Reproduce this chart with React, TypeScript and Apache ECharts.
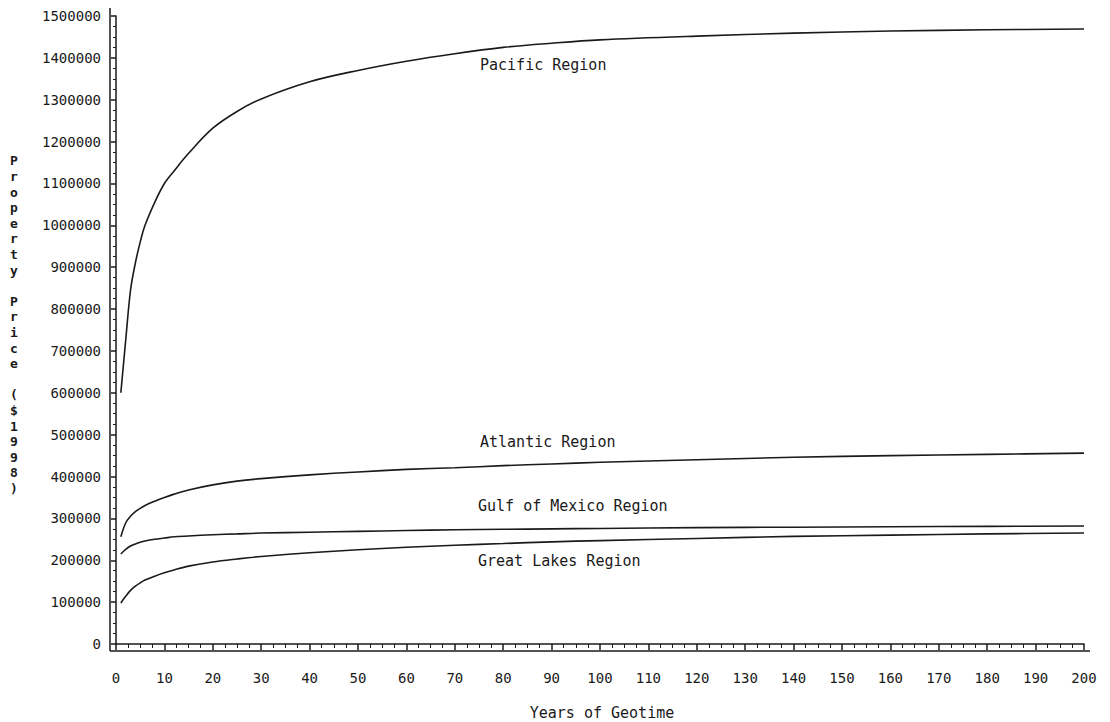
import React, { useEffect, useRef } from "react";
import * as echarts from "echarts";

const years = [1, 2, 3, 4, 5, 6, 8, 10, 12, 15, 20, 25, 30, 40, 50, 60, 70, 80, 90, 100, 120, 140, 160, 180, 200];
const pacific = [600000, 725000, 845000, 910000, 960000, 1000000, 1055000, 1100000, 1130000, 1172000, 1232000, 1272000, 1302000, 1343000, 1370000, 1392000, 1410000, 1425000, 1435000, 1443000, 1452000, 1459000, 1464000, 1467000, 1469000];
const atlantic = [256000, 289000, 305000, 316000, 324000, 331000, 341000, 350000, 358000, 368000, 380000, 389000, 395000, 404000, 411000, 417000, 421000, 426000, 430000, 434000, 440000, 446000, 450000, 453000, 456000];
const gulf = [215000, 226000, 234000, 239000, 243000, 246000, 250000, 253000, 256000, 258000, 261000, 263000, 265000, 267000, 269000, 271000, 273000, 274000, 275000, 276000, 278000, 279000, 280000, 281000, 282000];
const greatLakes = [98000, 114000, 128000, 138000, 146000, 153000, 162000, 170000, 177000, 186000, 196000, 203000, 209000, 218000, 225000, 231000, 236000, 240000, 244000, 247000, 252000, 257000, 260000, 263000, 265000];

const seriesNames = ["Pacific Region", "Atlantic Region", "Gulf of Mexico Region", "Great Lakes Region"];
const xTitle = "Years of Geotime";
const yTitle = "Property Price ($1998)";

const FONT = "DejaVu Sans Mono";
const INK = "#1a1a1a";

export default function App() {
  const ref = useRef<HTMLDivElement>(null);
  useEffect(() => {
    if (!ref.current) return;
    const chart = echarts.init(ref.current, undefined, { renderer: "svg" });
    const all = [pacific, atlantic, gulf, greatLakes];
    const labelPos = [
      [480, 65],
      [480, 442],
      [478, 506],
      [478, 561],
    ];
    chart.setOption({
      animation: false,
      backgroundColor: "#ffffff",
      grid: { left: 116, right: 26, top: 16, bottom: 78, containLabel: false },
      xAxis: {
        type: "value",
        min: 0,
        max: 200,
        interval: 10,
        offset: 7,
        axisLine: { show: true, lineStyle: { color: INK, width: 1.5 } },
        axisTick: { show: true, length: 6, lineStyle: { color: INK, width: 1.5 } },
        minorTick: { show: true, splitNumber: 4, length: 4, lineStyle: { color: INK, width: 1 } },
        splitLine: { show: false },
        axisLabel: { color: INK, fontFamily: FONT, fontSize: 14, margin: 20, formatter: (v: number) => String(v) },
      },
      yAxis: {
        type: "value",
        min: 0,
        max: 1500000,
        interval: 100000,
        offset: 6,
        axisLine: { show: true, lineStyle: { color: INK, width: 1.5 } },
        axisTick: { show: true, length: 5, lineStyle: { color: INK, width: 1.5 } },
        minorTick: { show: true, splitNumber: 4, length: 3, lineStyle: { color: INK, width: 1 } },
        splitLine: { show: false },
        axisLabel: { color: INK, fontFamily: FONT, fontSize: 14, margin: 9, formatter: (v: number) => String(v) },
      },
      series: all.map((arr, i) => ({
        name: seriesNames[i],
        type: "line",
        data: years.map((x, j) => [x, arr[j]]),
        smooth: 0.35,
        symbol: "none",
        lineStyle: { color: INK, width: 1.6 },
      })),
      graphic: [
        { type: "line", shape: { x1: 110, y1: 8, x2: 110, y2: 651 }, style: { stroke: INK, lineWidth: 1.5 } },
        { type: "line", shape: { x1: 110, y1: 651, x2: 1090, y2: 651 }, style: { stroke: INK, lineWidth: 1.5 } },
        ...seriesNames.map((name, i) => ({
          type: "text",
          x: labelPos[i][0],
          y: labelPos[i][1],
          style: { text: name, font: `15px "${FONT}"`, fill: INK, verticalAlign: "middle" },
        })),
        {
          type: "text",
          x: 602,
          y: 713,
          style: { text: xTitle, font: `15px "${FONT}"`, fill: INK, align: "center", verticalAlign: "middle" },
        },
        {
          type: "text",
          x: 14,
          y: 153,
          style: {
            text: yTitle.split("").join("\n"),
            font: `bold 13px "${FONT}"`,
            fill: INK,
            align: "center",
            verticalAlign: "top",
            lineHeight: 15.6,
          },
        },
      ],
    });
    return () => chart.dispose();
  }, []);
  return <div ref={ref} style={{ position: "fixed", left: 0, top: 0, width: 1110, height: 722 }} />;
}
